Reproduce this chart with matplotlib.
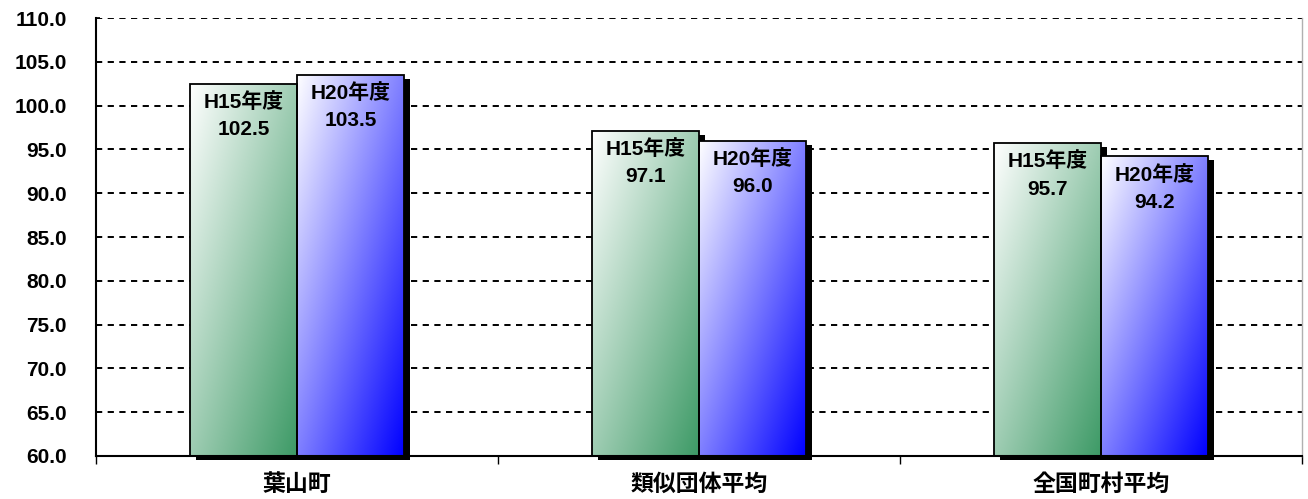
import numpy as np
import matplotlib
matplotlib.use("Agg")
import matplotlib.pyplot as plt
import matplotlib.transforms as mtransforms
from matplotlib.colors import to_rgb

plt.rcParams["font.family"] = ["Liberation Sans", "Noto Sans CJK JP"]
plt.rcParams["font.weight"] = "bold"

CATEGORIES = ["葉山町", "類似団体平均", "全国町村平均"]
SERIES = ["H15年度", "H20年度"]
H15 = [102.5, 97.1, 95.7]
H20 = [103.5, 96.0, 94.2]
Y_TICKS = [60.0, 65.0, 70.0, 75.0, 80.0, 85.0, 90.0, 95.0, 100.0, 105.0, 110.0]

BASE = 60.0
WIDTH = 0.266
OFFSETS = [-0.133, 0.133]
END_COLORS = ["#3d9a66", "#0000ff"]
START_COLORS = ["#ffffff", "#ffffff"]


def gradient_img(c0, c1, n=200):
    u = np.linspace(0, 1, n)[None, :]
    v = np.linspace(0, 1, n)[:, None]
    t = 0.5 * u + 0.5 * v  # top-left light -> bottom-right full colour
    c0 = np.array(to_rgb(c0))
    c1 = np.array(to_rgb(c1))
    return c0 + (c1 - c0) * t[..., None]


fig = plt.figure(figsize=(13.08, 4.99), dpi=100)
ax = fig.add_axes([0.0734, 0.0862, 0.9220, 0.8777])

x = np.arange(len(CATEGORIES))
shadow_shift = mtransforms.ScaledTranslation(6 / 100, -4 / 100, fig.dpi_scale_trans)

for k, (vals, name) in enumerate(zip([H15, H20], SERIES)):
    pos = x + OFFSETS[k]
    # drop shadows
    sh = ax.bar(pos, np.array(vals) - BASE, bottom=BASE, width=WIDTH,
                color="black", linewidth=0, zorder=1.5)
    for p in sh:
        p.set_transform(ax.transData + shadow_shift)
        p.set_clip_on(False)
    bars = ax.bar(pos, np.array(vals) - BASE, bottom=BASE, width=WIDTH,
                  facecolor="none", edgecolor="black", linewidth=1.3, zorder=3)
    img = gradient_img(START_COLORS[k], END_COLORS[k])
    for p, v in zip(bars, vals):
        x0 = p.get_x()
        im = ax.imshow(img, extent=[x0, x0 + WIDTH, BASE, v], aspect="auto",
                       interpolation="bilinear", zorder=2, origin="upper")
        im.set_clip_path(p)
        ax.annotate(f"{name}\n{v:.1f}", xy=(x0 + WIDTH / 2, v),
                    xytext=(0, -6), textcoords="offset points",
                    ha="center", va="top", fontsize=15, fontweight="bold",
                    linespacing=1.55, zorder=4)

ax.set_xlim(-0.5, len(CATEGORIES) - 0.5)
ax.set_ylim(BASE, 110)
ax.set_yticks(Y_TICKS)
ax.set_yticklabels([f"{t:.1f}" for t in Y_TICKS], fontsize=15, fontweight="bold")
ax.set_xticks(x)
ax.set_xticklabels(CATEGORIES, fontsize=16.5, fontweight="bold")
ax.set_xticks(np.arange(-0.5, len(CATEGORIES), 1.0), minor=True)
ax.tick_params(axis="x", which="major", length=0, pad=12)
ax.tick_params(axis="x", which="minor", length=6, width=1, direction="out")
ax.tick_params(axis="y", length=3, width=1.2, direction="in", pad=21)

ax.yaxis.grid(True, linestyle=(0, (3.2, 2.8)), color="black", linewidth=1.4)
ax.set_axisbelow(True)
ax.spines["top"].set_visible(False)
ax.spines["right"].set_color("#b0b0b0")
ax.spines["right"].set_linewidth(1)
ax.spines["left"].set_linewidth(1.5)
ax.spines["bottom"].set_linewidth(1.5)

fig.savefig("out.png", dpi=100)
